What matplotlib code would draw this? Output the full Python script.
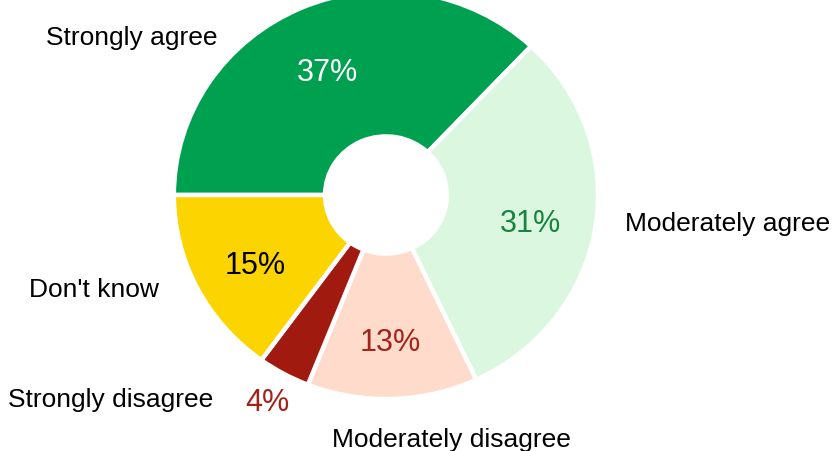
#Donut chart of survey answers
#percent labels inside the ring, category names round the outside

import matplotlib.pyplot as plt

#####DATA#####
answers = ["Strongly agree", "Moderately agree", "Moderately disagree",
           "Strongly disagree", "Don't know"]
shares = [37, 31, 13, 4, 15]
#####END DATA#####

#styles, one per slice in the order above
slice_colors = ["#00A051", "#DCF7E0", "#FFDBCC", "#A11A10", "#FCD400"]
pct_colors = ["white", "#17843F", "#A3231B", "#A3231B", "black"]

#where the names go, in pie units (x from centre, y from centre)
name_pos = [(-1.21, 0.78), (1.14, -0.14), (0.31, -1.21),
            (-1.31, -1.01), (-1.39, -0.465)]
name_align = ["center", "left", "center", "center", "center"]

plt.rcParams["font.family"] = ["Liberation Sans", "DejaVu Sans"]

fig = plt.figure(figsize=(8.33, 4.52), dpi=100)
ax = fig.add_axes([0, 0, 1, 1])

wedges, names, pcts = ax.pie(shares, colors=slice_colors, startangle=180,
                             counterclock=False, radius=1.01,
                             autopct="%.0f%%", pctdistance=0.69,
                             wedgeprops=dict(width=0.72, edgecolor="white", linewidth=3.2),
                             textprops=dict(fontsize=22))

#colour the percentages, the small slice gets its label pushed outside
for n in range(len(pcts)):
    pcts[n].set_color(pct_colors[n])
    x, y = pcts[n].get_position()
    if shares[n] < 5:
        pcts[n].set_position((x * 1.68, y * 1.68))
    else:
        pcts[n].set_position((x, y - 0.03))

#category names
for n in range(len(answers)):
    ax.text(name_pos[n][0], name_pos[n][1], answers[n], fontsize=19,
            ha=name_align[n], va="center", color="black")

#the picture is a bit wider than tall, so no equal aspect
ax.set_aspect("auto")
ax.set_xlim(-1.838, 2.129)
ax.set_ylim(-1.267, 0.970)
ax.axis("off")

fig.savefig("out.png", dpi=100)
